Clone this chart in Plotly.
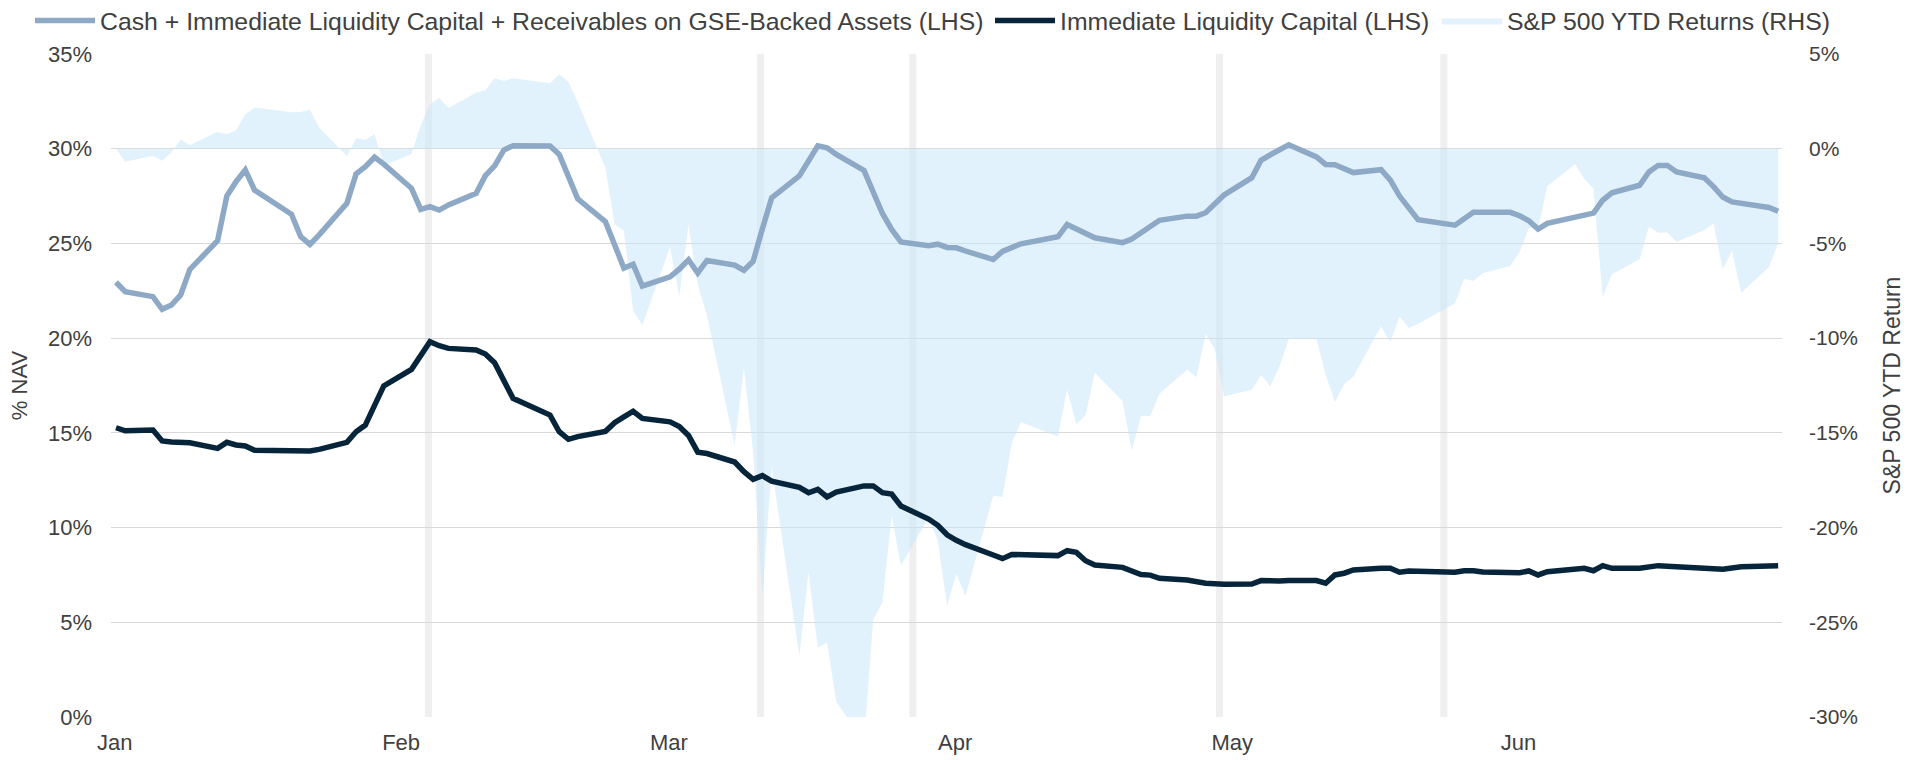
import pandas as pd
import plotly.graph_objects as go

YEAR = "2020"

# ---- Cash + Immediate Liquidity Capital + Receivables on GSE-Backed Assets (LHS, % NAV)
cash_dates = ["01-02", "01-03", "01-06", "01-07", "01-08", "01-09", "01-10", "01-13", "01-14", "01-15",
              "01-16", "01-17", "01-21", "01-22", "01-23", "01-24", "01-27", "01-28", "01-29", "01-30",
              "01-31", "02-03", "02-04", "02-05", "02-06", "02-07", "02-10", "02-11", "02-12", "02-13",
              "02-14", "02-18", "02-19", "02-20", "02-21", "02-24", "02-25", "02-26", "02-27", "02-28",
              "03-02", "03-03", "03-04", "03-05", "03-06", "03-09", "03-10", "03-11", "03-12", "03-13",
              "03-16", "03-17", "03-18", "03-19", "03-20", "03-23", "03-24", "03-25", "03-26", "03-27",
              "03-30", "03-31", "04-01", "04-02", "04-03", "04-06", "04-07", "04-08", "04-09", "04-13",
              "04-14", "04-17", "04-20", "04-21", "04-24", "04-27", "04-28", "04-29", "05-01", "05-04",
              "05-05", "05-06", "05-07", "05-08", "05-11", "05-12", "05-13", "05-14", "05-15", "05-18",
              "05-19", "05-20", "05-21", "05-22", "05-26", "05-27", "05-28", "06-01", "06-02", "06-03",
              "06-04", "06-05", "06-08", "06-09", "06-10", "06-11", "06-12", "06-15", "06-16", "06-17",
              "06-18", "06-19", "06-22", "06-23", "06-24", "06-25", "06-29", "06-30"]
cash_vals = [22.95, 22.45, 22.19, 21.52, 21.75, 22.28, 23.63, 25.14, 27.50, 28.26,
             28.88, 27.82, 26.54, 25.36, 24.95, 25.45, 27.12, 28.67, 29.05, 29.55,
             29.19, 27.91, 26.80, 26.94, 26.76, 27.03, 27.65, 28.58, 29.09, 29.93,
             30.16, 30.14, 29.70, 28.44, 27.35, 26.15, 25.00, 23.70, 23.90, 22.75,
             23.24, 23.64, 24.14, 23.44, 24.10, 23.86, 23.58, 24.06, 25.78, 27.40,
             28.56, 29.42, 30.15, 30.05, 29.70, 28.86, 27.70, 26.58, 25.74, 25.08,
             24.88, 24.96, 24.79, 24.77, 24.60, 24.15, 24.58, 24.82, 24.98, 25.35,
             26.00, 25.30, 25.04, 25.23, 26.22, 26.44, 26.44, 26.62, 27.56, 28.47,
             29.39, 29.68, 29.96, 30.21, 29.57, 29.17, 29.15, 28.95, 28.74, 28.89,
             28.34, 27.50, 26.91, 26.25, 25.96, 26.32, 26.64, 26.64, 26.46, 26.20,
             25.76, 26.06, 26.38, 26.48, 26.60, 27.28, 27.67, 28.07, 28.77, 29.12,
             29.12, 28.77, 28.47, 28.00, 27.45, 27.19, 26.90, 26.70]

# ---- Immediate Liquidity Capital (LHS, % NAV)
ilc_dates = ["01-02", "01-03", "01-06", "01-07", "01-08", "01-09", "01-10", "01-13", "01-14", "01-15",
             "01-16", "01-17", "01-21", "01-22", "01-23", "01-24", "01-27", "01-28", "01-29", "01-30",
             "01-31", "02-03", "02-04", "02-05", "02-06", "02-07", "02-10", "02-11", "02-12", "02-13",
             "02-14", "02-18", "02-19", "02-20", "02-21", "02-24", "02-25", "02-26", "02-27", "02-28",
             "03-02", "03-03", "03-04", "03-05", "03-06", "03-09", "03-10", "03-11", "03-12", "03-13",
             "03-16", "03-17", "03-18", "03-19", "03-20", "03-23", "03-24", "03-25", "03-26", "03-27",
             "03-30", "03-31", "04-01", "04-02", "04-03", "04-06", "04-07", "04-08", "04-13", "04-14",
             "04-15", "04-16", "04-17", "04-20", "04-21", "04-22", "04-23", "04-24", "04-27", "04-29",
             "05-01", "05-04", "05-05", "05-06", "05-07", "05-08", "05-11", "05-12", "05-13", "05-14",
             "05-15", "05-18", "05-19", "05-20", "05-21", "05-26", "05-27", "05-28", "05-29", "06-02",
             "06-03", "06-04", "06-05", "06-09", "06-10", "06-11", "06-12", "06-15", "06-17", "06-22",
             "06-24", "06-26", "06-30"]
ilc_vals = [15.27, 15.11, 15.15, 14.57, 14.52, 14.50, 14.48, 14.18, 14.50, 14.36,
            14.31, 14.08, 14.06, 14.05, 14.04, 14.13, 14.50, 15.06, 15.41, 16.45,
            17.48, 18.35, 19.02, 19.81, 19.60, 19.46, 19.37, 19.16, 18.70, 17.83,
            16.82, 15.94, 15.06, 14.66, 14.80, 15.08, 15.54, 15.84, 16.14, 15.76,
            15.58, 15.34, 14.86, 13.98, 13.91, 13.46, 12.95, 12.55, 12.74, 12.45,
            12.12, 11.84, 12.02, 11.62, 11.87, 12.20, 12.20, 11.84, 11.77, 11.14,
            10.45, 10.12, 9.62, 9.33, 9.10, 8.55, 8.36, 8.58, 8.52, 8.78,
            8.69, 8.25, 8.02, 7.90, 7.70, 7.52, 7.49, 7.32, 7.23, 7.06,
            7.01, 7.02, 7.20, 7.16, 7.18, 7.20, 7.20, 7.06, 7.50, 7.59,
            7.76, 7.85, 7.85, 7.64, 7.71, 7.64, 7.72, 7.72, 7.65, 7.62,
            7.71, 7.50, 7.67, 7.85, 7.72, 7.99, 7.85, 7.85, 7.99, 7.85,
            7.80, 7.93, 7.99]

# ---- S&P 500 YTD Returns (RHS, %)
spx_dates = ["01-02", "01-03", "01-06", "01-07", "01-08", "01-09", "01-10", "01-13", "01-14", "01-15",
             "01-16", "01-17", "01-21", "01-22", "01-23", "01-24", "01-27", "01-28", "01-29", "01-30",
             "01-31", "02-03", "02-04", "02-05", "02-06", "02-07", "02-10", "02-11", "02-12", "02-13",
             "02-14", "02-18", "02-19", "02-20", "02-21", "02-24", "02-25", "02-26", "02-27", "02-28",
             "03-02", "03-03", "03-04", "03-05", "03-06", "03-09", "03-10", "03-11", "03-12", "03-13",
             "03-16", "03-17", "03-18", "03-19", "03-20", "03-23", "03-24", "03-25", "03-26", "03-27",
             "03-30", "03-31", "04-01", "04-02", "04-03", "04-06", "04-07", "04-08", "04-09", "04-13",
             "04-14", "04-15", "04-16", "04-17", "04-20", "04-21", "04-22", "04-23", "04-24", "04-27",
             "04-28", "04-29", "04-30", "05-01", "05-04", "05-05", "05-06", "05-07", "05-08", "05-11",
             "05-12", "05-13", "05-14", "05-15", "05-18", "05-19", "05-20", "05-21", "05-22", "05-26",
             "05-27", "05-28", "05-29", "06-01", "06-02", "06-03", "06-04", "06-05", "06-08", "06-09",
             "06-10", "06-11", "06-12", "06-15", "06-16", "06-17", "06-18", "06-19", "06-22", "06-23",
             "06-24", "06-25", "06-26", "06-29", "06-30"]
spx_vals = [0.00, -0.69, -0.37, -0.63, -0.20, 0.48, 0.20, 0.90, 0.76, 0.98,
            1.80, 2.18, 1.92, 1.94, 2.06, 1.12, -0.40, 0.55, 0.47, 0.78,
            -0.90, -0.28, 1.24, 2.36, 2.68, 2.15, 2.95, 3.08, 3.72, 3.57,
            3.72, 3.45, 3.93, 3.52, 2.46, -1.00, -4.00, -4.33, -8.55, -9.30,
            -5.20, -7.80, -4.00, -7.20, -8.80, -15.66, -11.56, -16.00, -23.70, -16.80,
            -26.76, -22.36, -26.36, -26.06, -29.20, -31.30, -24.86, -23.96, -19.37, -22.00,
            -19.50, -20.69, -24.13, -22.45, -23.60, -18.31, -18.39, -15.57, -14.43, -15.19,
            -12.72, -14.55, -14.07, -11.83, -13.32, -15.93, -14.11, -14.11, -12.93, -11.67,
            -12.05, -9.79, -10.58, -13.07, -12.72, -11.95, -12.54, -11.49, -10.05, -10.05,
            -11.93, -13.39, -12.42, -12.02, -9.39, -10.21, -8.86, -9.47, -9.25, -8.16,
            -6.86, -6.98, -6.58, -6.19, -5.44, -4.18, -4.20, -1.98, -0.82, -1.58,
            -2.11, -7.81, -6.63, -5.84, -4.12, -4.44, -4.42, -4.91, -4.30, -3.95,
            -6.37, -5.39, -7.60, -6.26, -5.00]

month_labels = ["Jan", "Feb", "Mar", "Apr", "May", "Jun"]
band_dates = ["02-04 20:00", "03-11 19:00", "03-28 07:00", "04-30 12:00", "05-24 19:00"]

left_ticks = [0, 5, 10, 15, 20, 25, 30, 35]
right_ticks = [-30, -25, -20, -15, -10, -5, 0, 5]


def to_dt(lst):
    return pd.to_datetime([f"{YEAR}-{s}" for s in lst])


FONT = "Liberation Sans, Arial, sans-serif"
TXT = "#404040"
W, H = 1919, 760

fig = go.Figure()

fig.add_trace(go.Scatter(
    x=to_dt(spx_dates), y=spx_vals, yaxis="y", mode="lines",
    fill="tozeroy", fillcolor="rgba(200,231,250,0.55)",
    line=dict(width=0, color="rgba(200,231,250,0.55)"),
    name="S&P 500 YTD Returns (RHS)", legend="legend3"))

fig.add_trace(go.Scatter(
    x=to_dt(cash_dates), y=cash_vals, yaxis="y2", mode="lines",
    line=dict(color="#8EA9C6", width=5.5),
    name="Cash + Immediate Liquidity Capital + Receivables on GSE-Backed Assets (LHS)", legend="legend"))

fig.add_trace(go.Scatter(
    x=to_dt(ilc_dates), y=ilc_vals, yaxis="y2", mode="lines",
    line=dict(color="#06253A", width=5.5),
    name="Immediate Liquidity Capital (LHS)", legend="legend2"))

shapes = []
for b in to_dt(band_dates):
    shapes.append(dict(type="line", xref="x", yref="paper", x0=b, x1=b, y0=0, y1=1,
                       line=dict(color="#EFEFEF", width=7), layer="below"))

tickvals = pd.date_range(f"{YEAR}-01-01", periods=len(month_labels), freq="MS") + pd.Timedelta(hours=21)


def legend_at(xpx):
    return dict(orientation="h", xref="container", yref="container",
                x=xpx / W, y=1 - 21 / H, xanchor="left", yanchor="middle",
                font=dict(size=24.8, color=TXT, family=FONT), itemwidth=60,
                bgcolor="rgba(0,0,0,0)")


fig.update_layout(
    width=W, height=H,
    margin=dict(l=111, r=137, t=54, b=43, autoexpand=False),
    paper_bgcolor="white", plot_bgcolor="white",
    font=dict(family=FONT, color=TXT, size=21),
    shapes=shapes,
    showlegend=True,
    legend=legend_at(30),
    legend2=legend_at(990),
    legend3=legend_at(1437),
    xaxis=dict(type="date", range=[f"{YEAR}-01-01 11:00", f"{YEAR}-06-30 10:00"],
               tickvals=list(tickvals), ticktext=month_labels, ticks="",
               showgrid=False, zeroline=False, showline=False, ticklabelstandoff=10,
               tickfont=dict(size=22, color=TXT), automargin=False),
    yaxis=dict(side="right", range=[-30, 5], tickvals=right_ticks,
               ticktext=[f"{v}%" for v in right_ticks],
               showgrid=True, gridcolor="#D9D9D9", gridwidth=1, zeroline=False,
               ticklabelstandoff=26,
               title=dict(text="S&P 500 YTD Return", standoff=26, font=dict(size=23)),
               tickfont=dict(size=21, color=TXT), automargin=False, ticks=""),
    yaxis2=dict(side="left", overlaying="y", range=[0, 35], tickvals=left_ticks,
                ticktext=[f"{v}%" for v in left_ticks],
                showgrid=False, zeroline=False, ticklabelstandoff=18,
                title=dict(text="% NAV", standoff=14, font=dict(size=22)),
                tickfont=dict(size=22, color=TXT), automargin=False, ticks=""),
)

fig.write_html("out.html", config={"displayModeBar": False},
               post_script="document.body.style.margin='0px';")
